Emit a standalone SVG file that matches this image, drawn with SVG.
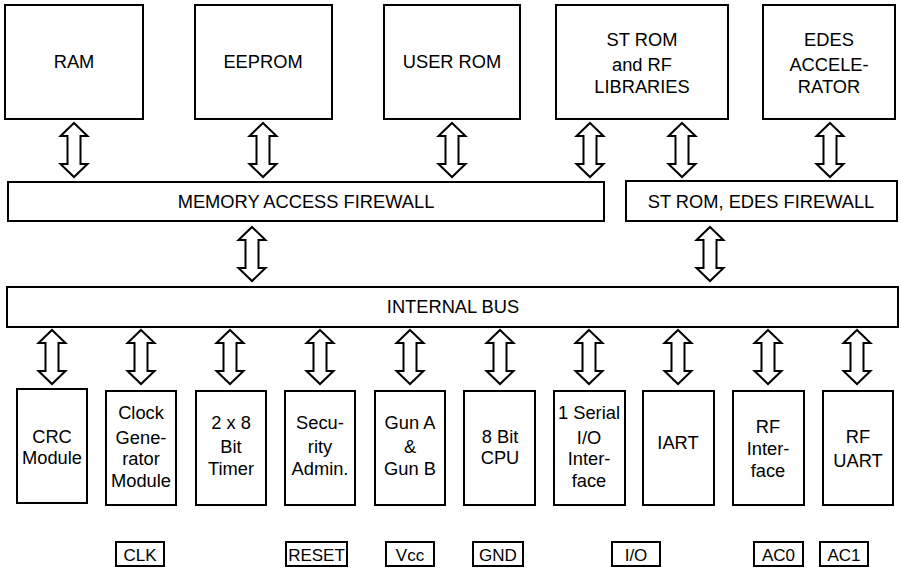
<svg xmlns="http://www.w3.org/2000/svg" width="901" height="570" viewBox="0 0 901 570">
  <style>
    .box { fill: #fff; stroke: #000; stroke-width: 2; }
    .pin { fill: #fff; stroke: #000; stroke-width: 2; }
    .pin + text { font-size: 17px; }
    .arrow { fill: #fff; stroke: #000; stroke-width: 2; stroke-linejoin: miter; }
    text { font-family: "Liberation Sans", Arial, sans-serif; font-size: 18.3px; fill: #000; text-anchor: middle; }
  </style>
  <defs>
    <!-- hollow double-headed bus arrow, 54 px long, tip at y=0 -->
    <path id="dbl" d="M0,0 L13.5,13 L6.5,13 L6.5,41 L13.5,41 L0,54 L-13.5,41 L-6.5,41 L-6.5,13 L-13.5,13 Z"/>
  </defs>
  <rect width="901" height="570" fill="#fff"/>

  <!-- memories -->
  <g id="ram"><rect class="box" x="5" y="5" width="138" height="114"/><text x="74" y="68">RAM</text></g>
  <g id="eeprom"><rect class="box" x="195" y="5" width="137" height="114"/><text x="263" y="68">EEPROM</text></g>
  <g id="user-rom"><rect class="box" x="384" y="5" width="136" height="114"/><text x="452" y="68">USER ROM</text></g>
  <g id="st-rom"><rect class="box" x="556" y="5" width="172" height="114"/>
    <text x="642" y="46">ST ROM</text><text x="642" y="71">and RF</text><text x="642" y="93">LIBRARIES</text></g>
  <g id="edes"><rect class="box" x="763" y="5" width="132" height="114"/>
    <text x="829" y="46">EDES</text><text x="829" y="71">ACCELE-</text><text x="829" y="93">RATOR</text></g>

  <!-- firewalls and bus -->
  <g id="maf"><rect class="box" x="8" y="182" width="596" height="39"/><text x="306" y="208">MEMORY ACCESS FIREWALL</text></g>
  <g id="edes-fw"><rect class="box" x="626" y="181" width="271" height="40"/><text x="761" y="208">ST ROM, EDES FIREWALL</text></g>
  <g id="bus"><rect class="box" x="7" y="287" width="891" height="40"/><text x="453" y="313">INTERNAL BUS</text></g>

  <!-- peripherals -->
  <g id="crc"><rect class="box" x="17" y="389" width="70" height="114"/>
    <text x="52" y="443">CRC</text><text x="52" y="464">Module</text></g>
  <g id="clock"><rect class="box" x="106" y="391" width="70" height="114"/>
    <text x="141" y="419">Clock</text><text x="141" y="444">Gene-</text><text x="141" y="465">rator</text><text x="141" y="487">Module</text></g>
  <g id="timer"><rect class="box" x="196" y="391" width="70" height="114"/>
    <text x="231" y="429">2 x 8</text><text x="231" y="453">Bit</text><text x="231" y="475">Timer</text></g>
  <g id="security"><rect class="box" x="285" y="391" width="70" height="114"/>
    <text x="320" y="429">Secu-</text><text x="320" y="453">rity</text><text x="320" y="475">Admin.</text></g>
  <g id="gun"><rect class="box" x="375" y="391" width="70" height="114"/>
    <text x="410" y="429">Gun A</text><text x="410" y="453">&amp;</text><text x="410" y="475">Gun B</text></g>
  <g id="cpu"><rect class="box" x="464" y="391" width="71" height="114"/>
    <text x="500" y="443">8 Bit</text><text x="500" y="464">CPU</text></g>
  <g id="serial"><rect class="box" x="554" y="391" width="71" height="114"/>
    <text x="589" y="419">1 Serial</text><text x="589" y="444">I/O</text><text x="589" y="465">Inter-</text><text x="589" y="487">face</text></g>
  <g id="iart"><rect class="box" x="643" y="391" width="71" height="114"/><text x="678" y="449">IART</text></g>
  <g id="rf-if"><rect class="box" x="733" y="391" width="71" height="114"/>
    <text x="768" y="433">RF</text><text x="768" y="455">Inter-</text><text x="768" y="477">face</text></g>
  <g id="rf-uart"><rect class="box" x="823" y="391" width="70" height="114"/>
    <text x="858" y="443">RF</text><text x="858" y="467">UART</text></g>

  <!-- pins -->
  <g id="pin-clk"><rect class="pin" x="116" y="542" width="48" height="24"/><text x="140" y="560.5">CLK</text></g>
  <g id="pin-reset"><rect class="pin" x="286" y="542" width="61" height="24"/><text x="316.5" y="560.5">RESET</text></g>
  <g id="pin-vcc"><rect class="pin" x="386" y="542" width="48" height="24"/><text x="410" y="560.5">Vcc</text></g>
  <g id="pin-gnd"><rect class="pin" x="473" y="542" width="50" height="24"/><text x="498" y="560.5">GND</text></g>
  <g id="pin-io"><rect class="pin" x="612" y="542" width="48" height="24"/><text x="636" y="560.5">I/O</text></g>
  <g id="pin-ac0"><rect class="pin" x="754" y="542" width="49" height="24"/><text x="778.5" y="560.5">AC0</text></g>
  <g id="pin-ac1"><rect class="pin" x="820" y="542" width="48" height="24"/><text x="844" y="560.5">AC1</text></g>

  <!-- bus connectors -->
  <g id="connectors" class="arrow">
    <use href="#dbl" x="74" y="123"/>
    <use href="#dbl" x="263" y="123"/>
    <use href="#dbl" x="452" y="123"/>
    <use href="#dbl" x="590" y="123"/>
    <use href="#dbl" x="682" y="123"/>
    <use href="#dbl" x="830" y="123"/>
    <use href="#dbl" x="252" y="227"/>
    <use href="#dbl" x="710" y="227"/>
    <use href="#dbl" x="52" y="330"/>
    <use href="#dbl" x="141" y="330"/>
    <use href="#dbl" x="230" y="330"/>
    <use href="#dbl" x="320" y="330"/>
    <use href="#dbl" x="410" y="330"/>
    <use href="#dbl" x="500" y="330"/>
    <use href="#dbl" x="589" y="330"/>
    <use href="#dbl" x="678" y="330"/>
    <use href="#dbl" x="768" y="330"/>
    <use href="#dbl" x="857" y="330"/>
  </g>
</svg>
